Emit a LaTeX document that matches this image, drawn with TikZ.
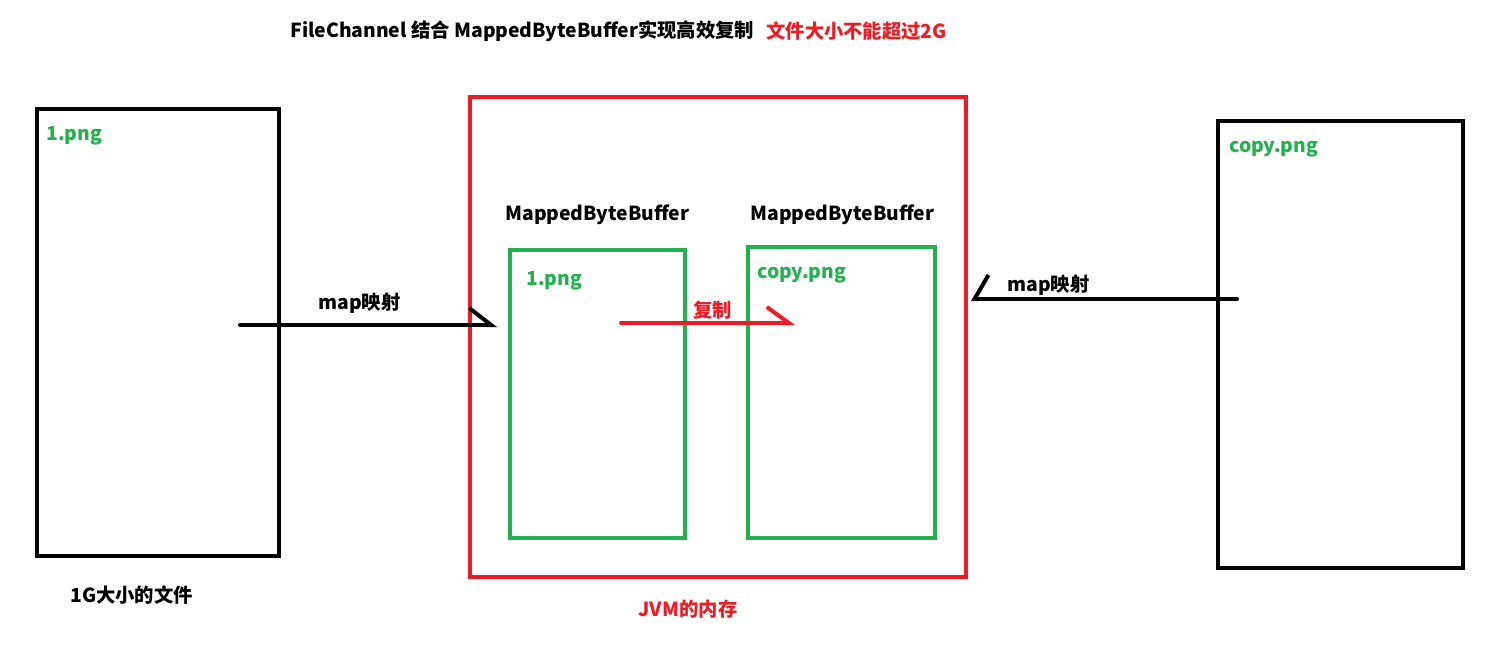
\documentclass[tikz,border=0pt]{standalone}
\usepackage{fontspec}
\setmainfont{Noto Sans CJK SC}
\usetikzlibrary{arrows.meta}
\definecolor{paintred}{RGB}{237,28,36}
\definecolor{paintgreen}{RGB}{34,177,76}
\tikzset{
  filebox/.style={draw=black,line width=0.08cm},
  jvmbox/.style={draw=paintred,line width=0.08cm},
  bufbox/.style={draw=paintgreen,line width=0.08cm},
  label/.style={inner sep=0pt,anchor=west,font=\bfseries\fontsize{11}{13}\selectfont},
  maparrow/.style={line width=0.08cm,line cap=round,-{Straight Barb[left,length=0.44cm,width=0.68cm]}},
}
\begin{document}
\begin{tikzpicture}[x=0.02cm,y=-0.02cm]
      \useasboundingbox (0,0) rectangle (1486,663);
      % title
      \node[label] (title) at (290,31) {FileChannel 结合 MappedByteBuffer实现高效复制};
      \node[label,text=paintred] (limit) at (766,31) {文件大小不能超过2G};
      % source file
      \node[filebox,minimum width=4.84cm,minimum height=8.94cm] (src) at (158,332.5) {};
      \node[label,text=paintgreen] (srcname) at (46,136) {1.png};
      \node[label] (srcsize) at (70,595) {1G大小的文件};
      % jvm memory
      \node[jvmbox,minimum width=9.92cm,minimum height=9.6cm] (jvm) at (718,337) {};
      \node[label,text=paintred,anchor=center] (jvmname) at (688,609) {JVM的内存};
      \node[label] (bufAname) at (505,215) {MappedByteBuffer};
      \node[label] (bufBname) at (750,215) {MappedByteBuffer};
      \node[bufbox,minimum width=3.5cm,minimum height=5.76cm] (bufA) at (597.5,394) {};
      \node[bufbox,minimum width=3.74cm,minimum height=5.82cm] (bufB) at (841.5,392.5) {};
      \node[label,text=paintgreen] (bufAfile) at (526,281) {1.png};
      \node[label,text=paintgreen] (bufBfile) at (757,275) {copy.png};
      % target file
      \node[filebox,minimum width=4.9cm,minimum height=8.94cm] (dst) at (1340.5,344.5) {};
      \node[label,text=paintgreen] (dstname) at (1229,149) {copy.png};
      % arrows
      \coordinate (mapAfrom) at (240,325);
      \coordinate (mapAto) at (497,325);
      \coordinate (copyfrom) at (621,323);
      \coordinate (copyto) at (795,323);
      \coordinate (mapBfrom) at (1237,299);
      \coordinate (mapBto) at (971,299);
      \draw[maparrow] (mapAfrom) -- (mapAto);
      \draw[maparrow,draw=paintred,-{Straight Barb[left,length=0.44cm,width=0.64cm]}] (copyfrom) -- (copyto);
      \draw[maparrow,-{Straight Barb[right,length=0.28cm,width=0.96cm]}] (mapBfrom) -- (mapBto);
      \node[label] (mapAlabel) at (318,303) {map映射};
      \node[label,text=paintred] (copylabel) at (693,310) {复制};
      \node[label] (mapBlabel) at (1007,285) {map映射};
    \end{tikzpicture}
\end{document}
